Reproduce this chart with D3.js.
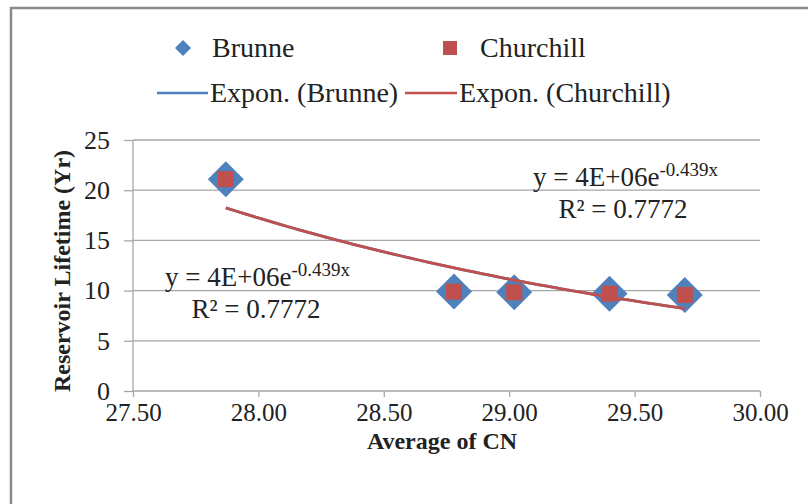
<!DOCTYPE html>
<html><head><meta charset="utf-8">
<script src="https://cdn.jsdelivr.net/npm/d3@7"></script>
<style>body{margin:0;background:#fff}svg{display:block}</style>
</head><body><svg id="c" width="808" height="504"></svg>
<script>
const cn = [27.87, 28.78, 29.02, 29.40, 29.70];
const brunne = [21.1, 9.9, 9.83, 9.69, 9.56];
const churchill = [21.1, 9.9, 9.83, 9.69, 9.56];
const xTicks = [27.5, 28.0, 28.5, 29.0, 29.5, 30.0];
const yTicks = [0, 5, 10, 15, 20, 25];
const eqText = "y = 4E+06e", eqExp = "-0.439x", r2Text = "R² = 0.7772";

const svg = d3.select("#c");
const serif = "'Liberation Serif','Times New Roman',serif";
const x = d3.scaleLinear().domain([27.5, 30]).range([133, 760]);
const y = d3.scaleLinear().domain([0, 25]).range([391, 140]);
const gridC = "#a6a6a6", txtC = "#222";

// outer frame
svg.append("path").attr("d","M11,504 L11,8 L808,8").attr("fill","none").attr("stroke","#8a8a8a").attr("stroke-width",2.5);

// gridlines
svg.append("g").selectAll("line").data(yTicks.filter(d=>d>0)).join("line")
  .attr("x1",x.range()[0]).attr("x2",x.range()[1]).attr("y1",d=>y(d)).attr("y2",d=>y(d))
  .attr("stroke",gridC).attr("stroke-width",1.3);

// axes
const xAxis = svg.append("g").attr("transform","translate(0,391)")
  .call(d3.axisBottom(x).tickValues(xTicks).tickFormat(d3.format(".2f")).tickSize(6).tickPadding(6));
const yAxis = svg.append("g").attr("transform","translate(133,0)")
  .call(d3.axisLeft(y).tickValues(yTicks).tickSize(9).tickPadding(14));
[xAxis,yAxis].forEach(a=>{
  a.attr("font-family",serif);
  a.select(".domain").attr("stroke",gridC).attr("stroke-width",1.3);
  a.selectAll(".tick line").attr("stroke",gridC).attr("stroke-width",1.3);
  a.selectAll("text").attr("font-family",serif).attr("font-size",25).attr("fill",txtC);
});
yAxis.selectAll("text").attr("font-size",26);
yAxis.select(".domain").attr("d","M0,140V391");
xAxis.select(".domain").attr("d","M133,0H760");

// axis titles
svg.append("text").attr("x",442).attr("y",449).attr("text-anchor","middle")
  .attr("font-family",serif).attr("font-weight","bold").attr("font-size",24).attr("fill",txtC).text("Average of CN");
svg.append("text").attr("transform","translate(70,271) rotate(-90)").attr("text-anchor","middle")
  .attr("font-family",serif).attr("font-weight","bold").attr("font-size",24).attr("fill",txtC).text("Reservoir Lifetime (Yr)");

// exponential fit (Excel-style: least squares on ln y)
function expFit(xs, ys){
  const l = ys.map(Math.log);
  const mx = d3.mean(xs), ml = d3.mean(l);
  let sxy=0,sxx=0; xs.forEach((v,i)=>{sxy+=(v-mx)*(l[i]-ml); sxx+=(v-mx)*(v-mx);});
  const b = sxy/sxx, a = ml - b*mx;
  return xv => Math.exp(a + b*xv);
}
const line = d3.line().x(d=>x(d[0])).y(d=>y(d[1]));
function trend(xs, ys, color){
  const f = expFit(xs, ys);
  const lo = d3.min(xs), hi = d3.max(xs);
  const pts = d3.range(0,51).map(i=>{const xv = lo+(hi-lo)*i/50; return [xv,f(xv)];});
  svg.append("path").attr("d",line(pts)).attr("fill","none").attr("stroke",color).attr("stroke-width",2.8);
}

// Brunne diamonds + trend, then Churchill squares + trend
svg.append("g").selectAll("path").data(cn.map((c,i)=>[c,brunne[i]])).join("path")
  .attr("d",d3.symbol(d3.symbolSquare, 2*18*18)).attr("fill","#4f81bd")
  .attr("transform",d=>`translate(${x(d[0])},${y(d[1])}) rotate(45)`);
trend(cn, brunne, "#4f81bd");
svg.append("g").selectAll("rect").data(cn.map((c,i)=>[c,churchill[i]])).join("rect")
  .attr("x",d=>x(d[0])-8).attr("y",d=>y(d[1])-8).attr("width",16).attr("height",16).attr("fill","#c0504d");
trend(cn, churchill, "#c0504d");

// equation labels
function eq(xLeft, yb, r2Center){
  const t = svg.append("text").attr("x",xLeft).attr("y",yb)
    .attr("font-family",serif).attr("font-size",27).attr("fill",txtC);
  t.append("tspan").text(eqText);
  t.append("tspan").attr("dy",-10).attr("font-size",19).text(eqExp);
  svg.append("text").attr("x",r2Center).attr("y",yb+32).attr("text-anchor","middle")
    .attr("font-family",serif).attr("font-size",27).attr("fill",txtC).text(r2Text);
}
eq(533, 186, 623);
eq(165, 286, 256);

// legend
const lg = svg.append("g").attr("font-family",serif).attr("font-size",28).attr("fill",txtC);
lg.append("path").attr("d",d3.symbol(d3.symbolSquare, 2*8*8)).attr("fill","#4f81bd").attr("transform","translate(183,48) rotate(45)");
lg.append("text").attr("x",212).attr("y",57).text("Brunne");
lg.append("rect").attr("x",443).attr("y",41).attr("width",14).attr("height",14).attr("fill","#c0504d");
lg.append("text").attr("x",480).attr("y",57).text("Churchill");
lg.append("line").attr("x1",157).attr("x2",208).attr("y1",93).attr("y2",93).attr("stroke","#4f81bd").attr("stroke-width",2.5);
lg.append("text").attr("x",210).attr("y",102).text("Expon. (Brunne)");
lg.append("line").attr("x1",405).attr("x2",457).attr("y1",93).attr("y2",93).attr("stroke","#c0504d").attr("stroke-width",2.5);
lg.append("text").attr("x",459).attr("y",102).text("Expon. (Churchill)");
</script></body></html>
